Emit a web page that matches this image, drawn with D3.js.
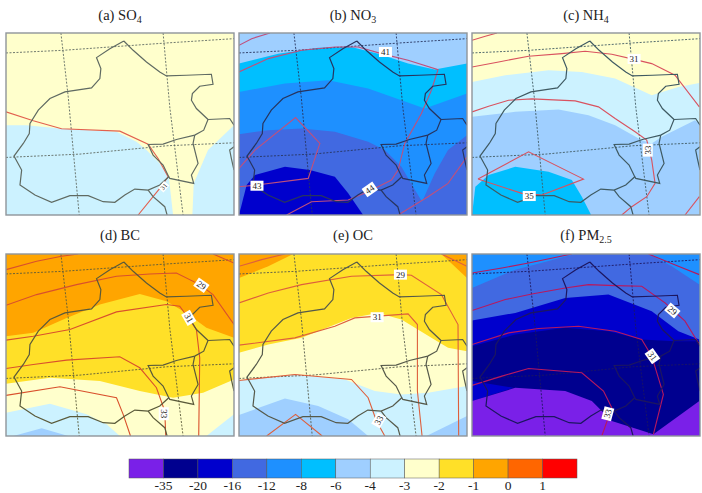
<!DOCTYPE html>
<html>
<head>
<meta charset="utf-8">
<script src="https://cdn.jsdelivr.net/npm/d3@7/dist/d3.min.js"></script>
<style>
html,body{margin:0;padding:0;background:#fff;overflow:hidden}
text{font-family:"Liberation Serif",serif;fill:#222}
</style>
</head>
<body>
<svg id="chart" width="702" height="493"></svg>
<script>
// Colour classes and their boundary values (percent change)
const classColors = ["#7a20e8","#00008f","#0000cd","#4169e1","#1e90ff","#00bfff","#9fcfff","#ccf2ff","#ffffcc","#ffe028","#ffa500","#ff6600","#ff0000"];
const classLabels = ["-35","-20","-16","-12","-8","-6","-4","-3","-2","-1","0","1"];
const PURPLE=0,NAVY=1,BLUE=2,ROYAL=3,DODGER=4,SKY=5,PALE=6,ICE=7,CREAM=8,GOLD=9,ORANGE=10;

// Shared map geography, in map units
const borderMain = [[372,122],[400,150],[440,185],[480,215],[500,227],[560,225],[635,222],[640,252],[600,258],[578,280],[575,300],[590,325],[625,358],[612,390],[585,405],[530,418],[490,432],[445,433],[460,465],[490,495],[507,530],[480,555],[445,570],[405,567],[375,585],[345,607],[310,605],[265,587],[210,587],[155,607],[105,585],[60,555],[65,510],[42,468],[70,430],[88,400],[90,370],[115,330],[150,295],[195,275],[275,263],[300,235],[303,205],[290,172],[330,145],[372,122]];
const borderEast = [[625,358],[690,355],[703,375]];
const borderInner = [[585,405],[580,430],[595,490],[575,525],[582,550],[510,535],[507,530]];
const borderSouth = [[445,570],[460,590],[495,620],[502,645]];
const borderEdge = [[703,440],[690,450],[695,475],[703,510]];
const borders = [borderMain,borderEast,borderInner,borderSouth,borderEdge];
const graticule = [
  [[183,98],[205,290],[238,645]],
  [[490,98],[510,320],[550,645]],
  [[18,158],[190,150],[500,128],[703,115]],
  [[18,472],[240,462],[500,437],[703,428]]
];

// (a) SO4
const bandsA = [
  {c:ICE,p:[[18,375],[80,375],[180,385],[350,395],[410,425],[440,450],[480,490],[507,530],[520,645],[18,645]]},
  {c:ICE,p:[[578,645],[582,550],[625,450],[703,375],[703,645]]}
];
const contoursA = [
  [[18,335],[100,362],[185,386],[360,393],[445,432],[475,475],[505,530],[480,565],[415,645]]
];
const labelsA = [{t:"31",x:492,y:560,r:-50,s:0.7}];

// (b) NO3
const bandsB = [
  {c:SKY,p:[[12,190],[130,160],[250,142],[350,140],[430,160],[520,190],[600,208],[697,190],[697,645],[12,645]]},
  {c:DODGER,p:[[12,275],[150,250],[280,240],[400,265],[500,300],[570,325],[697,280],[697,645],[12,645]]},
  {c:ROYAL,p:[[12,402],[100,390],[200,385],[300,395],[400,425],[450,450],[500,500],[535,560],[562,605],[600,520],[640,450],[697,405],[697,645],[12,645]]},
  {c:BLUE,p:[[12,645],[35,555],[60,525],[150,500],[225,510],[300,530],[340,580],[385,645]]}
];
const contoursB = [
  [[12,215],[100,175],[200,150],[300,140],[370,140],[440,160],[520,180],[610,208],[590,270],[560,340],[510,430],[490,510],[470,540],[400,575],[340,600],[230,605],[155,645]],
  [[12,135],[50,115],[105,98]],
  [[12,505],[60,450],[182,352],[255,430],[220,535],[65,555],[12,560]],
  [[490,645],[580,590],[640,550],[697,470]]
];
const labelsB = [{t:"41",x:452,y:155,r:0},{t:"43",x:66,y:557,r:0},{t:"44",x:405,y:568,r:-35}];

// (c) NH4
const bandsC = [
  {c:ICE,p:[[20,245],[120,225],[250,210],[350,215],[450,235],[560,285],[640,260],[703,248],[703,645],[20,645]]},
  {c:PALE,p:[[20,350],[150,335],[280,328],[370,345],[450,375],[530,420],[560,430],[590,410],[640,385],[690,360],[703,370],[703,645],[20,645]]},
  {c:SKY,p:[[20,645],[30,560],[70,525],[150,500],[250,515],[320,540],[350,590],[378,645]]}
];
const contoursC = [
  [[20,200],[100,185],[190,168],[290,160],[360,153],[440,162],[510,178],[560,190],[630,225],[703,320]],
  [[20,120],[60,108],[95,98]],
  [[20,335],[70,318],[130,300],[200,296],[330,302],[400,320],[450,355],[510,395],[545,420],[560,480],[570,550],[545,590],[500,620],[470,645]],
  [[38,537],[190,455],[355,537],[230,585],[170,580],[38,537]],
  [[660,645],[703,590]]
];
const labelsC = [{t:"31",x:507,y:176,r:0},{t:"33",x:548,y:450,r:-90},{t:"35",x:192,y:588,r:0}];

// (d) BC
const bandsD = [
  {c:GOLD,p:[[18,335],[100,325],[200,280],[300,240],[420,208],[500,230],[560,265],[620,310],[703,340],[703,635],[18,635]]},
  {c:CREAM,p:[[18,478],[150,460],[300,470],[420,500],[520,520],[610,505],[703,465],[703,635],[18,635]]},
  {c:ICE,p:[[18,565],[150,538],[260,570],[320,600],[360,635],[18,635]]},
  {c:ICE,p:[[620,635],[703,570],[703,635]]},
  {c:PALE,p:[[40,635],[125,612],[205,635]]}
];
const contoursD = [
  [[18,135],[110,110],[185,95],[235,88]],
  [[18,242],[110,210],[230,180],[350,155],[450,148],[530,145],[600,180],[640,210],[703,300]],
  [[18,347],[100,335],[210,315],[350,262],[500,240],[540,245],[590,315],[600,400],[597,635]],
  [[18,432],[100,420],[200,407],[360,397],[420,430],[470,490],[495,560],[498,635]],
  [[18,513],[180,487],[350,520],[370,570],[392,635]],
  [[640,88],[703,115]]
];
const labelsD = [{t:"29",x:605,y:182,r:35},{t:"31",x:567,y:280,r:60},{t:"33",x:492,y:568,r:90}];

// (e) OC
const bandsE = [
  {c:ORANGE,p:[[12,88],[175,88],[100,125],[12,160]]},
  {c:ORANGE,p:[[620,88],[697,88],[697,160]]},
  {c:CREAM,p:[[12,385],[100,360],[200,340],[350,280],[430,265],[500,285],[590,340],[640,370],[697,380],[697,635],[12,635]]},
  {c:ICE,p:[[12,468],[180,450],[330,465],[420,500],[500,510],[580,505],[697,485],[697,635],[12,635]]},
  {c:PALE,p:[[12,572],[150,522],[250,545],[340,585],[400,635],[12,635]]},
  {c:PALE,p:[[575,635],[697,575],[697,635]]}
];
const contoursE = [
  [[12,125],[80,105],[150,88]],
  [[12,235],[100,205],[200,180],[350,155],[500,150],[530,152],[620,210],[670,300],[672,635]],
  [[12,362],[180,340],[300,305],[360,280],[520,268],[548,300],[548,500],[562,635]],
  [[12,468],[180,450],[350,465],[400,520],[425,590],[450,635]],
  [[95,635],[182,570],[262,635]],
  [[620,88],[697,125]]
];
const labelsE = [{t:"29",x:497,y:150,r:0},{t:"31",x:427,y:278,r:0},{t:"33",x:432,y:588,r:-60}];

// (f) PM2.5
const bandsF = [
  {c:ROYAL,p:[[20,190],[150,135],[330,88],[550,88],[620,125],[703,180],[703,635],[20,635]]},
  {c:BLUE,p:[[20,288],[150,265],[300,220],[430,210],[560,260],[640,320],[703,345],[703,635],[20,635]]},
  {c:NAVY,p:[[20,365],[150,330],[300,310],[430,320],[530,345],[630,350],[703,350],[703,635],[20,635]]},
  {c:BLUE,p:[[20,470],[145,490],[20,530]]},
  {c:PURPLE,p:[[20,530],[150,490],[300,500],[380,530],[440,590],[565,630],[703,530],[703,635],[20,635]]}
];
const contoursF = [
  [[20,258],[120,225],[200,208],[300,190],[370,180],[450,183],[530,185],[600,235],[660,290],[703,360]],
  [[20,360],[130,325],[220,312],[340,305],[450,320],[530,345],[560,395],[595,510],[565,630]],
  [[20,483],[110,455],[190,432],[350,445],[415,500],[440,550],[410,635]],
  [[20,145],[110,130],[190,115],[320,88]],
  [[550,88],[640,125],[703,150]]
];
const labelsF = [{t:"29",x:622,y:258,r:40},{t:"31",x:562,y:395,r:55},{t:"33",x:428,y:568,r:-75}];

// Panel descriptors: frame, map-unit origin, and stroke colours
const plotW = 228, plotH = 182;
const panels = [
  {title:"(a) SO",sub:"4",left:6,top:33,ox:18,oy:98,base:CREAM,bands:bandsA,contours:contoursA,labels:labelsA,line:"#e2604f",edge:"#5f6a62",titleY:20},
  {title:"(b) NO",sub:"3",left:239,top:33,ox:12,oy:98,base:PALE,bands:bandsB,contours:contoursB,labels:labelsB,line:"#c0507c",edge:"#27345f",titleY:20},
  {title:"(c) NH",sub:"4",left:472,top:33,ox:20,oy:98,base:CREAM,bands:bandsC,contours:contoursC,labels:labelsC,line:"#d9525f",edge:"#3f5a62",titleY:20},
  {title:"(d) BC",sub:"",left:6,top:254,ox:18,oy:88,base:ORANGE,bands:bandsD,contours:contoursD,labels:labelsD,line:"#d9502c",edge:"#5a5a3a",titleY:240},
  {title:"(e) OC",sub:"",left:239,top:254,ox:12,oy:88,base:GOLD,bands:bandsE,contours:contoursE,labels:labelsE,line:"#de5f3c",edge:"#55594a",titleY:240},
  {title:"(f) PM",sub:"2.5",left:472,top:254,ox:20,oy:88,base:DODGER,bands:bandsF,contours:contoursF,labels:labelsF,line:"#b8185e",edge:"#1c1660",titleY:240}
];

const svg = d3.select("#chart");
const defs = svg.append("defs");

panels.forEach((pn,i) => {
  // Own-frame scales for fields and isolines
  const x = d3.scaleLinear().domain([pn.ox,pn.ox+685]).range([pn.left,pn.left+plotW]);
  const y = d3.scaleLinear().domain([pn.oy,pn.oy+547]).range([pn.top,pn.top+plotH]);
  // Geography is stored relative to the first panel's frame
  const gx = d3.scaleLinear().domain([18,703]).range([pn.left,pn.left+plotW]);
  const gy = d3.scaleLinear().domain([98,645]).range([pn.top,pn.top+plotH]);
  const fieldLine = d3.line().x(d=>x(d[0])).y(d=>y(d[1]));
  const geoLine = d3.line().x(d=>gx(d[0])).y(d=>gy(d[1]));

  defs.append("clipPath").attr("id","clip"+i).append("rect")
    .attr("x",pn.left).attr("y",pn.top).attr("width",plotW).attr("height",plotH);

  const g = svg.append("g").attr("clip-path",`url(#clip${i})`);
  g.append("rect").attr("x",pn.left).attr("y",pn.top).attr("width",plotW).attr("height",plotH)
    .attr("fill",classColors[pn.base]);
  g.selectAll("path.band").data(pn.bands).join("path").attr("class","band")
    .attr("d",d=>fieldLine(d.p)+"Z").attr("fill",d=>classColors[d.c]);

  g.selectAll("path.grat").data(graticule).join("path").attr("class","grat")
    .attr("d",geoLine).attr("fill","none").attr("stroke",pn.edge)
    .attr("stroke-width",0.9).attr("stroke-dasharray","2 1.5");
  g.selectAll("path.iso").data(pn.contours).join("path").attr("class","iso")
    .attr("d",fieldLine).attr("fill","none").attr("stroke",pn.line).attr("stroke-width",1.1);
  g.selectAll("path.border").data(borders).join("path").attr("class","border")
    .attr("d",geoLine).attr("fill","none").attr("stroke",pn.edge).attr("stroke-width",1.2);

  // Isoline value tags
  const tag = g.selectAll("g.tag").data(pn.labels).join("g").attr("class","tag")
    .attr("transform",d=>`translate(${x(d.x)},${y(d.y)}) rotate(${d.r}) scale(${d.s||1})`);
  tag.append("rect").attr("x",-6.5).attr("y",-5).attr("width",13).attr("height",10).attr("fill","#fff");
  tag.append("text").attr("text-anchor","middle").attr("y",3).attr("font-size",9).text(d=>d.t);

  // Frame
  svg.append("rect").attr("x",pn.left).attr("y",pn.top).attr("width",plotW).attr("height",plotH)
    .attr("fill","none").attr("stroke","#8f959a").attr("stroke-width",1.4);

  // Panel title with optional subscript
  const title = svg.append("text").attr("x",pn.left+plotW/2).attr("y",pn.titleY)
    .attr("text-anchor","middle").attr("font-size",14.5);
  title.append("tspan").text(pn.title);
  if (pn.sub) title.append("tspan").attr("dy",3).attr("font-size",10).text(pn.sub);
});

// Colour bar
const barLeft = 129, barRight = 577, barTop = 459, barHeight = 19;
const barX = d3.scaleLinear().domain([0,classColors.length]).range([barLeft,barRight]);
svg.append("g").selectAll("rect").data(classColors).join("rect")
  .attr("x",(d,i)=>barX(i)).attr("y",barTop)
  .attr("width",(barRight-barLeft)/classColors.length).attr("height",barHeight)
  .attr("fill",d=>d).attr("stroke","#555").attr("stroke-width",0.5);
svg.append("g").selectAll("text").data(classLabels).join("text")
  .attr("x",(d,i)=>barX(i+1)).attr("y",489.5).attr("text-anchor","middle")
  .attr("font-size",13.5).text(d=>d);
</script>
</body>
</html>
